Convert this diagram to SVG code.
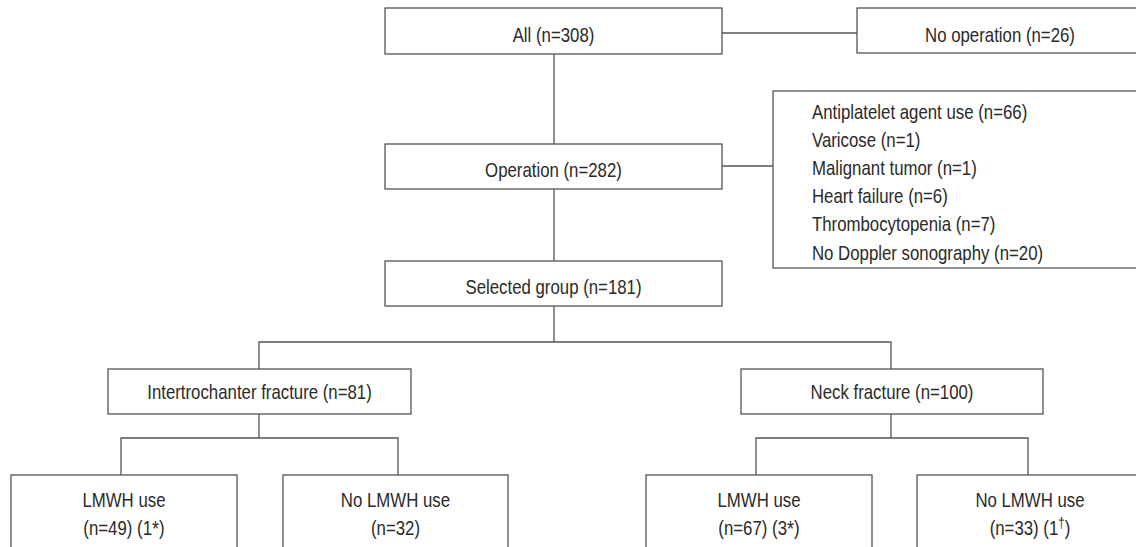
<svg xmlns="http://www.w3.org/2000/svg" width="1136" height="547" viewBox="0 0 1136 547">
<style>
.box{fill:#fff;stroke:#555;stroke-width:1.3}
.ln{fill:none;stroke:#555;stroke-width:1.3}
text{font-family:"Liberation Sans",Arial,sans-serif;font-size:20.5px;fill:#2a2a2a}
.c{text-anchor:middle}
.ast{font-size:22px}
.dag{font-size:14px}
</style>
<rect width="1136" height="547" fill="#fff"/>
<g id="connectors">
<line class="ln" x1="722" y1="33" x2="857" y2="33"/>
<line class="ln" x1="554" y1="54" x2="554" y2="144"/>
<line class="ln" x1="722" y1="166" x2="773" y2="166"/>
<line class="ln" x1="554" y1="189" x2="554" y2="261"/>
<polyline class="ln" points="554,306 554,342"/>
<polyline class="ln" points="259,369 259,342 891,342 891,369"/>
<polyline class="ln" points="259,414 259,438"/>
<polyline class="ln" points="121,475 121,438 398,438 398,475"/>
<polyline class="ln" points="891,414 891,438"/>
<polyline class="ln" points="756,475 756,438 1028,438 1028,475"/>
</g>
<g id="all"><rect class="box" x="385" y="8" width="337" height="46"/><g transform="scale(0.82 1)"><text class="c" x="675" y="42">All (n=308)</text></g></g>
<g id="no-operation"><rect class="box" x="857" y="8" width="286" height="45"/><g transform="scale(0.82 1)"><text class="c" x="1219.5" y="42">No operation (n=26)</text></g></g>
<g id="operation"><rect class="box" x="385" y="144" width="337" height="45"/><g transform="scale(0.82 1)"><text class="c" x="675" y="177">Operation (n=282)</text></g></g>
<g id="exclusions"><rect class="box" x="773" y="91" width="370" height="177"/>
<g transform="scale(0.82 1)">
<text x="990.2" y="119">Antiplatelet agent use (n=66)</text>
<text x="990.2" y="147">Varicose (n=1)</text>
<text x="990.2" y="175">Malignant tumor (n=1)</text>
<text x="990.2" y="203">Heart failure (n=6)</text>
<text x="990.2" y="231">Thrombocytopenia (n=7)</text>
<text x="990.2" y="260">No Doppler sonography (n=20)</text>
</g>
</g>
<g id="selected"><rect class="box" x="385" y="261" width="337" height="45"/><g transform="scale(0.82 1)"><text class="c" x="675" y="294">Selected group (n=181)</text></g></g>
<g id="intertrochanter"><rect class="box" x="108" y="369" width="303" height="45"/><g transform="scale(0.82 1)"><text class="c" x="316.5" y="399">Intertrochanter fracture (n=81)</text></g></g>
<g id="neck"><rect class="box" x="741" y="369" width="302" height="45"/><g transform="scale(0.82 1)"><text class="c" x="1087.8" y="399">Neck fracture (n=100)</text></g></g>
<g id="it-lmwh"><rect class="box" x="11" y="475" width="226" height="90"/><g transform="scale(0.82 1)"><text class="c" x="151.2" y="507">LMWH use</text><text class="c" x="151.2" y="535">(n=49) (1<tspan class="ast" dy="1">*</tspan><tspan dy="-1">)</tspan></text></g></g>
<g id="it-nolmwh"><rect class="box" x="283" y="475" width="225" height="90"/><g transform="scale(0.82 1)"><text class="c" x="482.3" y="507">No LMWH use</text><text class="c" x="482.3" y="535">(n=32)</text></g></g>
<g id="nk-lmwh"><rect class="box" x="646" y="475" width="226" height="90"/><g transform="scale(0.82 1)"><text class="c" x="925.6" y="507">LMWH use</text><text class="c" x="925.6" y="535">(n=67) (3<tspan class="ast" dy="1">*</tspan><tspan dy="-1">)</tspan></text></g></g>
<g id="nk-nolmwh"><rect class="box" x="917" y="475" width="226" height="90"/><g transform="scale(0.82 1)"><text class="c" x="1256.1" y="507">No LMWH use</text><text class="c" x="1256.1" y="535">(n=33) (1<tspan class="dag" dy="-7">†</tspan><tspan dy="7">)</tspan></text></g></g>
</svg>
